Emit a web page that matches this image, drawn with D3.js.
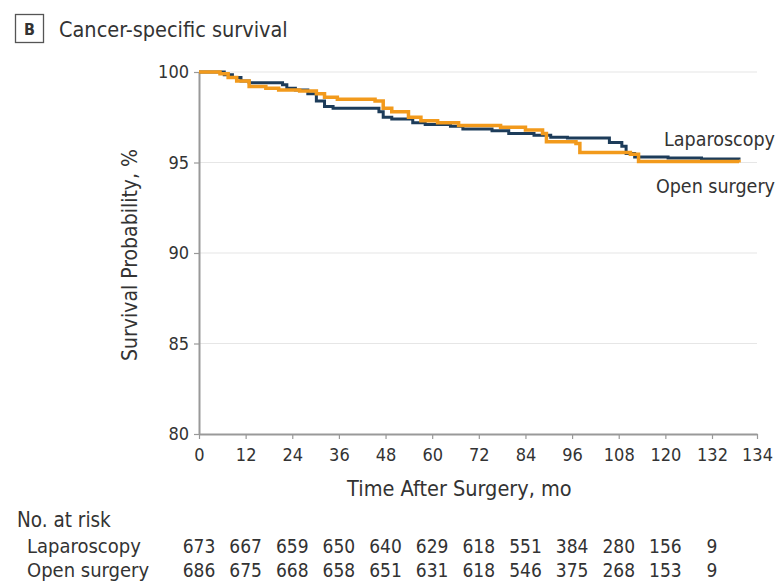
<!DOCTYPE html>
<html>
<head>
<meta charset="utf-8">
<script src="https://cdn.jsdelivr.net/npm/d3@7"></script>
<style>
  body { margin: 0; background: #fff; }
  text { font-family: "DejaVu Sans Condensed", "Liberation Sans Narrow", sans-serif; fill: #333; }
</style>
</head>
<body>
<div id="chart-area"></div>
<script>
// Kaplan-Meier steps [month, survival %]
var laparoscopy = [[0,100],[6.5,99.85],[8.6,99.7],[10.8,99.5],[12.9,99.4],[21.5,99.3],[22.6,99.1],[24.8,99.0],[28,98.8],[30.2,98.4],[32.3,98.1],[34.5,98.0],[46.3,97.8],[47.4,97.5],[49.6,97.4],[55,97.2],[58.2,97.1],[64.7,97.0],[67.9,96.85],[75.4,96.75],[79.7,96.6],[86.2,96.5],[90.5,96.4],[94.8,96.35],[105.6,96.1],[108.8,95.9],[109.9,95.5],[112.1,95.3],[120.7,95.25],[129.3,95.2],[133.2,95.15]];
var openSurgery = [[0,100],[5.4,99.9],[7.5,99.7],[9.7,99.5],[12.9,99.2],[17.2,99.1],[20.5,99.0],[25.9,98.95],[30.2,98.8],[32.3,98.6],[35.6,98.5],[45.3,98.4],[47.4,98.0],[49.6,97.8],[53.9,97.5],[57.1,97.3],[61.4,97.2],[66.8,97.05],[77.6,96.95],[84,96.8],[88.4,96.6],[89.4,96.15],[97,96.05],[98,95.55],[111,95.45],[113.1,95.05],[133.2,95.0]];

var xTicks = [0,12,24,36,48,60,72,84,96,108,120,132,134];
var yTicks = [80,85,90,95,100];

var riskGroups = ["Laparoscopy","Open surgery"];
var riskTimes = [0,12,24,36,48,60,72,84,96,108,120,132];
var riskLap = [673,667,659,650,640,629,618,551,384,280,156,9];
var riskOpen = [686,675,668,658,651,631,618,546,375,268,153,9];

var W = 782, H = 583;
var margin = {top:72, left:199};
var width = 558, height = 362;

var svg = d3.select("#chart-area").append("svg")
    .attr("width",W).attr("height",H)

// Title
svg.append("rect")
    .attr("x",15.5).attr("y",14.5).attr("width",28).attr("height",28)
    .attr("fill","none").attr("stroke","#555").attr("stroke-width",1.3)
svg.append("text").attr("x",29.5).attr("y",34.5).attr("text-anchor","middle")
    .attr("font-size","16px").attr("font-weight","bold").text("B")
svg.append("text").attr("x",59).attr("y",37)
    .attr("font-size","21.5px").text("Cancer-specific survival")

var g = svg.append("g").attr("transform","translate(" + margin.left + "," + margin.top + ")")

// last tick (134) sits one full tick step after 132
var x = d3.scaleLinear().domain([0,132,134]).range([0,513,width])
var y = d3.scaleLinear().domain([80,100]).range([height,0])

// Gridlines
g.selectAll(".grid").data(yTicks.slice(1)).enter().append("line")
    .attr("x1",0).attr("x2",x(134))
    .attr("y1",d=>y(d)).attr("y2",d=>y(d))
    .attr("stroke","#e6e6e6").attr("stroke-width",1.2)

// Axes
var xAxis = g.append("g").attr("transform","translate(0," + height + ")")
    .call(d3.axisBottom(x).tickValues(xTicks).tickSize(5).tickSizeOuter(0))
var yAxis = g.append("g")
    .call(d3.axisLeft(y).tickValues(yTicks).tickSize(5).tickSizeOuter(0))
g.selectAll(".domain").attr("stroke","#999").attr("stroke-width",2)
g.selectAll(".tick line").attr("stroke","#999").attr("stroke-width",1.2)
g.selectAll(".tick text").attr("font-size","18px").attr("fill","#333")
    .style("font-family",'"DejaVu Sans Condensed", "Liberation Sans Narrow", sans-serif')
xAxis.selectAll(".tick text").attr("dy","1.05em")
yAxis.selectAll(".tick text").attr("x",-10)

// Axis labels
g.append("text").attr("x",x(67)).attr("y",height + 62).attr("text-anchor","middle")
    .attr("font-size","21.5px").text("Time After Surgery, mo")
g.append("text").attr("transform","rotate(-90)")
    .attr("x",-height/2 - 2).attr("y",-62).attr("text-anchor","middle")
    .attr("font-size","21px").text("Survival Probability, %")

// Curves
var line = d3.line().curve(d3.curveStepAfter).x(d=>x(d[0])).y(d=>y(d[1]))
g.append("path").datum(laparoscopy).attr("d",line)
    .attr("fill","none").attr("stroke","#1d3c5a").attr("stroke-width",3)
g.append("path").datum(openSurgery).attr("d",line)
    .attr("fill","none").attr("stroke","#f29a1c").attr("stroke-width",3.5)

// Curve labels
g.append("text").attr("x",576).attr("y",y(95.9)).attr("text-anchor","end")
    .attr("font-size","19.5px").text("Laparoscopy")
g.append("text").attr("x",576).attr("y",y(93.3)).attr("text-anchor","end")
    .attr("font-size","19.5px").text("Open surgery")

// Number at risk table, columns under the time ticks
svg.append("text").attr("x",17).attr("y",527).attr("font-size","20.5px").text("No. at risk")
var rows = [riskLap, riskOpen]
rows.forEach((r,i)=>{
    var yy = 553 + i*24
    svg.append("text").attr("x",27).attr("y",yy).attr("font-size","20px").text(riskGroups[i])
    svg.selectAll(".risk" + i).data(r).enter().append("text")
        .attr("x",(d,j)=>margin.left + x(riskTimes[j])).attr("y",yy).attr("text-anchor","middle")
        .attr("font-size","19px").text(d=>d)
})
</script>
</body>
</html>
